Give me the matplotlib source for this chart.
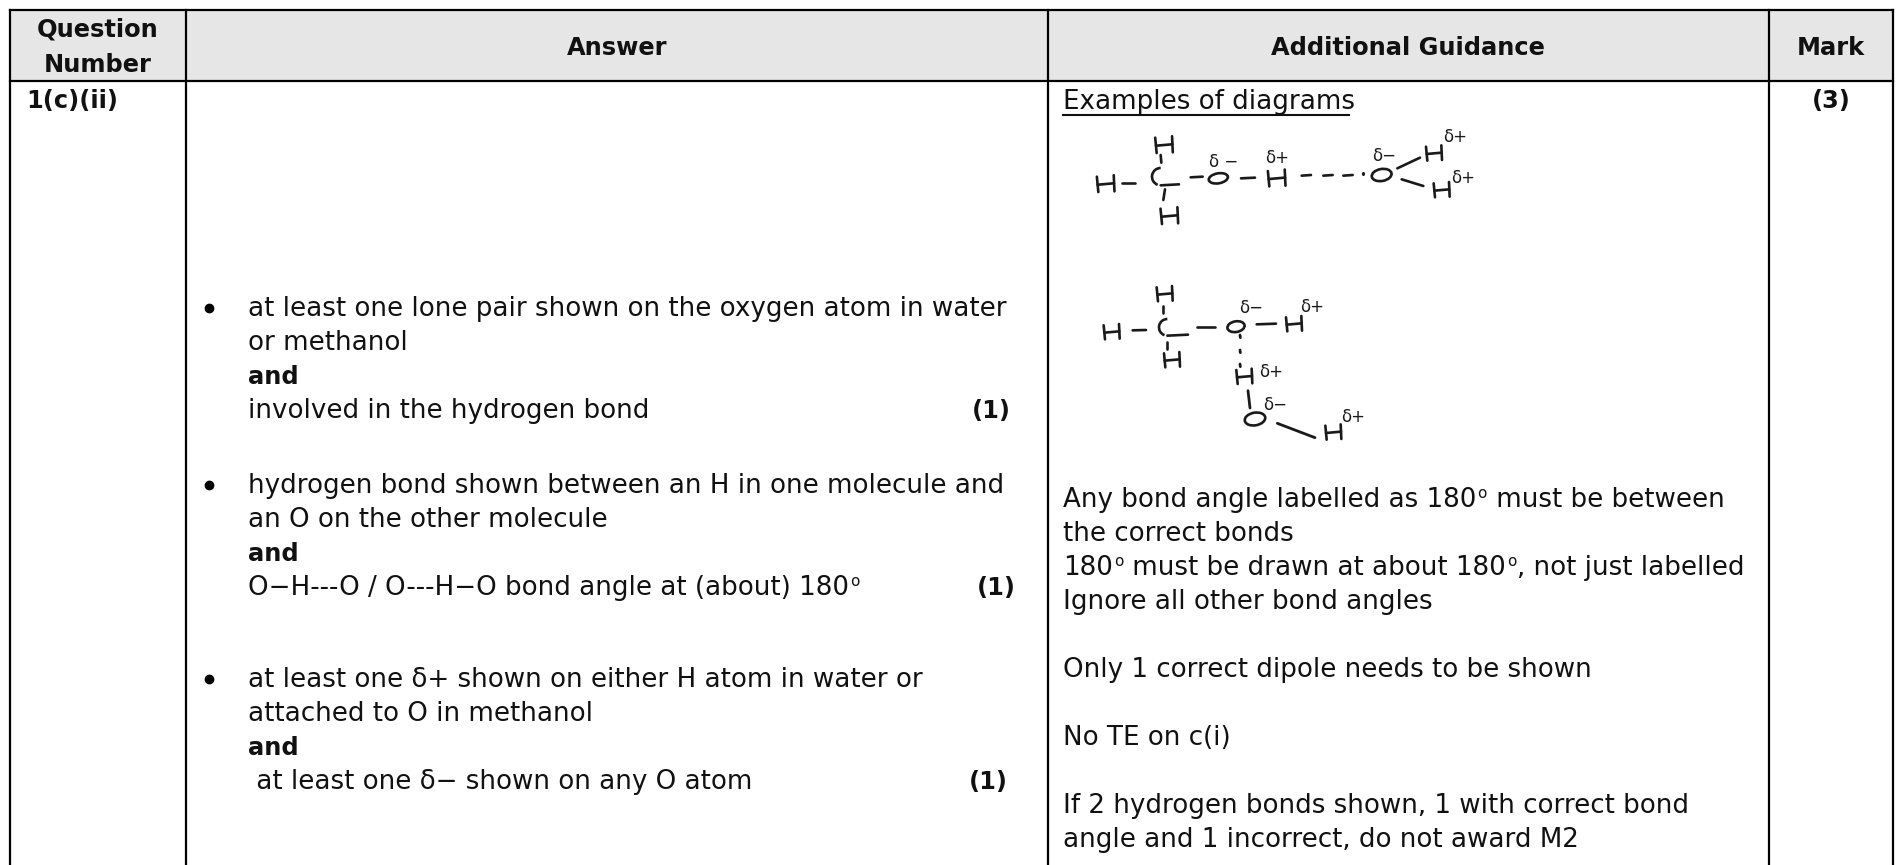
import matplotlib
matplotlib.use("Agg")
import matplotlib.pyplot as plt
from matplotlib.patches import Rectangle, Ellipse, Arc

plt.rcParams['font.family'] = ['DejaVu Sans']
W, H_ = 1903, 865
SIZE = 18.8
BOLD = 17.4
SUP = 11.0

headers = ["Question\nNumber", "Answer", "Additional Guidance", "Mark"]
question = "1(c)(ii)"
total_mark = "(3)"
answer_1 = ["at least one lone pair shown on the oxygen atom in water", "or methanol", "and", "involved in the hydrogen bond"]
answer_2 = ["hydrogen bond shown between an H in one molecule and", "an O on the other molecule", "and", "O\u2212H---O / O---H\u2212O bond angle at (about) 180"]
answer_3 = ["at least one \u03b4+ shown on either H atom in water or", "attached to O in methanol", "and", " at least one \u03b4\u2212 shown on any O atom"]
marks = ["(1)", "(1)", "(1)"]
guidance_title = "Examples of diagrams"
guidance = [
    "Any bond angle labelled as 180", " must be between", "the correct bonds",
    "180", " must be drawn at about 180", ", not just labelled",
    "Ignore all other bond angles",
    "Only 1 correct dipole needs to be shown", "No TE on c(i)",
    "If 2 hydrogen bonds shown, 1 with correct bond", "angle and 1 incorrect, do not award M2"]

fig = plt.figure(figsize=(W/100, H_/100), dpi=100)
ax = fig.add_axes([0, 0, 1, 1])
ax.set_xlim(0, W); ax.set_ylim(H_, 0); ax.axis('off')
rend = fig.canvas.get_renderer()

L, C1, C2, C3, R, T, HB = 10, 186, 1048, 1769, 1893, 10, 81
ax.add_patch(Rectangle((L, T), R-L, HB-T, fc='#e6e6e6', ec='none'))
lw = 1.6
ax.plot([L, R], [T, T], 'k', lw=lw); ax.plot([L, R], [HB, HB], 'k', lw=lw)
for x in (L, C1, C2, C3, R):
    ax.plot([x, x], [T, H_], 'k', lw=lw)

def t(x, y, s, bold=False, ha='left', size=None, **k):
    return ax.text(x, y, s, ha=ha, va='baseline', fontsize=size or (BOLD if bold else SIZE),
                   fontweight='bold' if bold else 'normal', color='#111111', **k)

def run(x, y, *parts):
    for s in parts:
        sup = s == "o"
        tx_ = t(x, y - (9 if sup else 0), s, size=SUP if sup else None)
        x = tx_.get_window_extent(rend).x1 + 1

q1, q2 = headers[0].split("\n")
t(98, 37, q1, True, 'center'); t(98, 72, q2, True, 'center')
t(617, 55, headers[1], True, 'center')
t(1408, 55, headers[2], True, 'center')
t(1831, 55, headers[3], True, 'center')
t(26, 108, question, True)
t(1831, 108, total_mark, True, 'center')

def block(lines, y0, xmark, mark, x=248):
    ax.plot([209], [y0-8], 'o', color='k', ms=6)
    for i, s in enumerate(lines[:3]):
        t(x, y0 + i*34, s, bold=(s == "and"))
    if lines[3].endswith("180"):
        run(x, y0 + 102, lines[3], "o")
    else:
        t(x, y0 + 102, lines[3])
    t(xmark, y0 + 3*34, mark, True, 'right')

block(answer_1, 316, 1011, marks[0])
block(answer_2, 493, 1016, marks[1])
block(answer_3, 687, 1008, marks[2])

tx = 1063
title = t(tx, 109, guidance_title)
ax.plot([tx, title.get_window_extent(rend).x1 - 6], [115, 115], color='#111111', lw=1.5)
run(tx, 507, guidance[0], "o", guidance[1])
t(tx, 541, guidance[2])
run(tx, 575, guidance[3], "o", guidance[4], "o", guidance[5])
t(tx, 609, guidance[6])
t(tx, 677, guidance[7])
t(tx, 745, guidance[8])
t(tx, 813, guidance[9])
t(tx, 847, guidance[10])

# hand-drawn diagrams, drawn in zoom-crop units
INK = '#1a1a1a'
def mk(ox, oy):
    def P(x, y): return ox + x/3, oy + y/3
    def seg(x0, y0, x1, y1, w=1.9):
        a, b = P(x0, y0), P(x1, y1)
        ax.plot([a[0], b[0]], [a[1], b[1]], color=INK, lw=w, solid_capstyle='round')
    def H(x, y, s=1.0):
        seg(x-24*s, y-20*s, x-20*s, y+22*s); seg(x+22*s, y-24*s, x+24*s, y+20*s)
        seg(x-22*s, y+2*s, x+23*s, y-2*s)
    def O(x, y, w=56, h=34):
        ax.add_patch(Ellipse(P(x, y), w/3, h/3, angle=-10, fc='none', ec=INK, lw=1.9))
    def C(x, y, r=24, tail=50):
        ax.add_patch(Arc(P(x, y), 2*r/3, 2*r/3, theta1=110, theta2=270, ec=INK, lw=1.9))
        seg(x, y+r, x+tail, y+r-3)
    def lab(x, y, s):
        ax.text(*P(x, y), s, ha='center', va='center', fontsize=12, color=INK)
    return seg, H, O, C, lab

seg, H, O, C, lab = mk(1060, 110)
H(312, 105, 1.1); seg(302, 135, 304, 158); H(137, 222, 1.1); seg(186, 218, 225, 218)
C(302, 200, 26, 55); seg(315, 238, 310, 270); H(328, 318, 1.1)
seg(392, 202, 428, 200); O(475, 205, 58, 30); lab(490, 157, "\u03b4 \u2212")
seg(543, 205, 585, 203); H(650, 205, 1.1); lab(650, 143, "\u03b4+")
for a in (725, 790, 850):
    seg(a, 197, a+28, 195)
O(965, 195, 60, 36); seg(908, 190, 908, 192, 2.2); seg(908, 212, 908, 214, 2.2)
lab(972, 138, "\u03b4\u2212")
seg(1012, 175, 1080, 143); H(1122, 130, 1); lab(1185, 80, "\u03b4+")
seg(1025, 208, 1090, 228); H(1145, 240, 1); lab(1210, 205, "\u03b4+")

seg, H, O, C, lab = mk(1060, 270)
H(314, 72, 1); seg(308, 108, 308, 128); H(155, 186, 1); seg(218, 181, 258, 180)
C(322, 172, 25, 62); seg(322, 216, 322, 236); H(336, 270, 1)
seg(412, 170, 465, 170); O(528, 170, 52, 32); lab(572, 115, "\u03b4\u2212")
seg(590, 163, 648, 161); H(702, 162, 1); lab(755, 112, "\u03b4+")
for a in (195, 240, 282):
    seg(540, a, 541, a+8, 2)
H(553, 320, 1); lab(632, 305, "\u03b4+"); seg(564, 362, 570, 414, 2)
O(585, 447, 62, 38); lab(645, 405, "\u03b4\u2212")
seg(652, 460, 765, 503, 2); H(820, 487, 1); lab(880, 442, "\u03b4+")

fig.savefig("out.png", dpi=100)
